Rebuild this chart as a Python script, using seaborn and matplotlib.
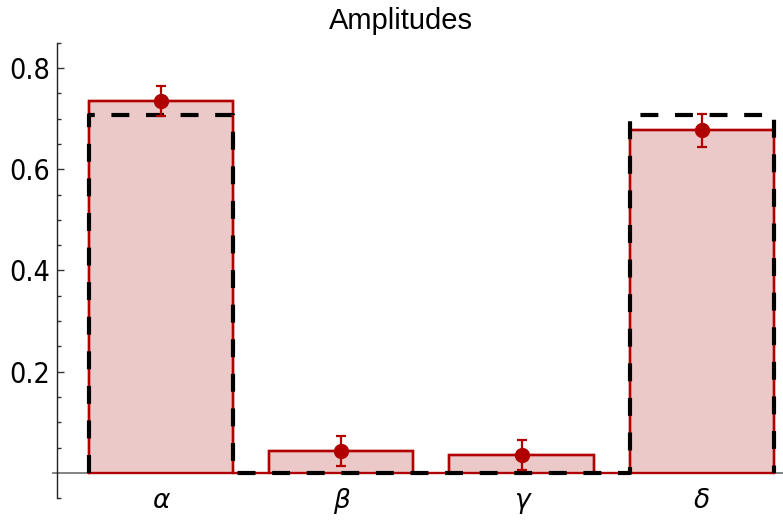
import numpy as np
import pandas as pd
import matplotlib
matplotlib.use("Agg")
import matplotlib.pyplot as plt
import seaborn as sns

# ---- data ----
categories = ["α", "β", "γ", "δ"]
measured = [0.735, 0.044, 0.036, 0.677]
errors = [0.030, 0.030, 0.030, 0.033]
ideal = [0.707, 0.0, 0.0, 0.707]
yticks_major = [0.2, 0.4, 0.6, 0.8]
yticks_labels = ["0.2", "0.4", "0.6", "0.8"]

RED = "#b00000"
FILL = "#ecc9c9"
GRAY = "#7a7a7a"
BAR_W = 0.8

df = pd.DataFrame({"cat": categories, "val": measured})

W, H = 783, 520
fig = plt.figure(figsize=(W / 100, H / 100), dpi=100)
ax = fig.add_axes([57 / W, 1 - 498.3 / H, (783 - 57) / W, (498.3 - 42.7) / H])

sns.barplot(data=df, x="cat", y="val", order=categories, color=FILL,
            saturation=1, width=BAR_W, edgecolor=RED, linewidth=1.7,
            errorbar=None, ax=ax, zorder=2)

pos = np.arange(len(categories))


def step_outline(vals):
    xs, ys = [], []
    for p, v in zip(pos, vals):
        l, r = p - BAR_W / 2, p + BAR_W / 2
        xs += [l, l, r, r]
        ys += [0, v, v, 0]
    return xs, ys


# red outline joining bars along the baseline
rx, ry = step_outline(measured)
ax.plot(rx, ry, color=RED, lw=1.7, zorder=3, solid_joinstyle="miter")

# zero axis line
ax.axhline(0, xmin=-4 / 726, xmax=1, color=GRAY, lw=1.3, zorder=1, clip_on=False)
ax.plot(pos, np.zeros(len(pos)), marker=2, ls="none", color=GRAY, ms=4, mew=1.2, zorder=1)

# ideal dashed outline
ix, iy = step_outline(ideal)
ax.plot(ix, iy, color="black", lw=3, dashes=(4.3, 4.0), zorder=4)

# measured points with error bars
ax.errorbar(pos, measured, yerr=errors, fmt="o", color=RED, ms=10,
            elinewidth=1.6, capsize=3.8, capthick=1.6, zorder=5)

ax.set_xlim(-0.577, 3.45)
ax.set_ylim(-0.05, 0.85)

for s in ["top", "right", "bottom"]:
    ax.spines[s].set_visible(False)
ax.spines["left"].set_color("#222222")
ax.spines["left"].set_linewidth(1.0)

ax.set_yticks(yticks_major)
ax.set_yticklabels(yticks_labels)
ax.set_yticks([m for m in np.round(np.arange(-0.05, 0.851, 0.05), 2)
               if m not in yticks_major and m != 0], minor=True)
ax.tick_params(axis="y", which="major", direction="in", length=5, width=1,
               color="#333333", pad=5, labelsize=20.5)
ax.tick_params(axis="y", which="minor", direction="in", length=3, width=1,
               color="#333333")
for t in ax.get_yticklabels():
    t.set_fontfamily("DejaVu Sans")
    t.set_fontstretch("condensed")

ax.set_xticks([])
ax.set_xlabel("")
ax.set_ylabel("")
for p, lab in zip(pos, categories):
    ax.text(p, -0.055, lab, ha="center", va="center", fontsize=19,
            fontstyle="italic", family="DejaVu Sans", clip_on=False)

fig.text(401 / W, 1 - 21 / H, "Amplitudes", ha="center", va="center",
         fontsize=21, family="Liberation Sans")

fig.savefig("out.png", dpi=100)
